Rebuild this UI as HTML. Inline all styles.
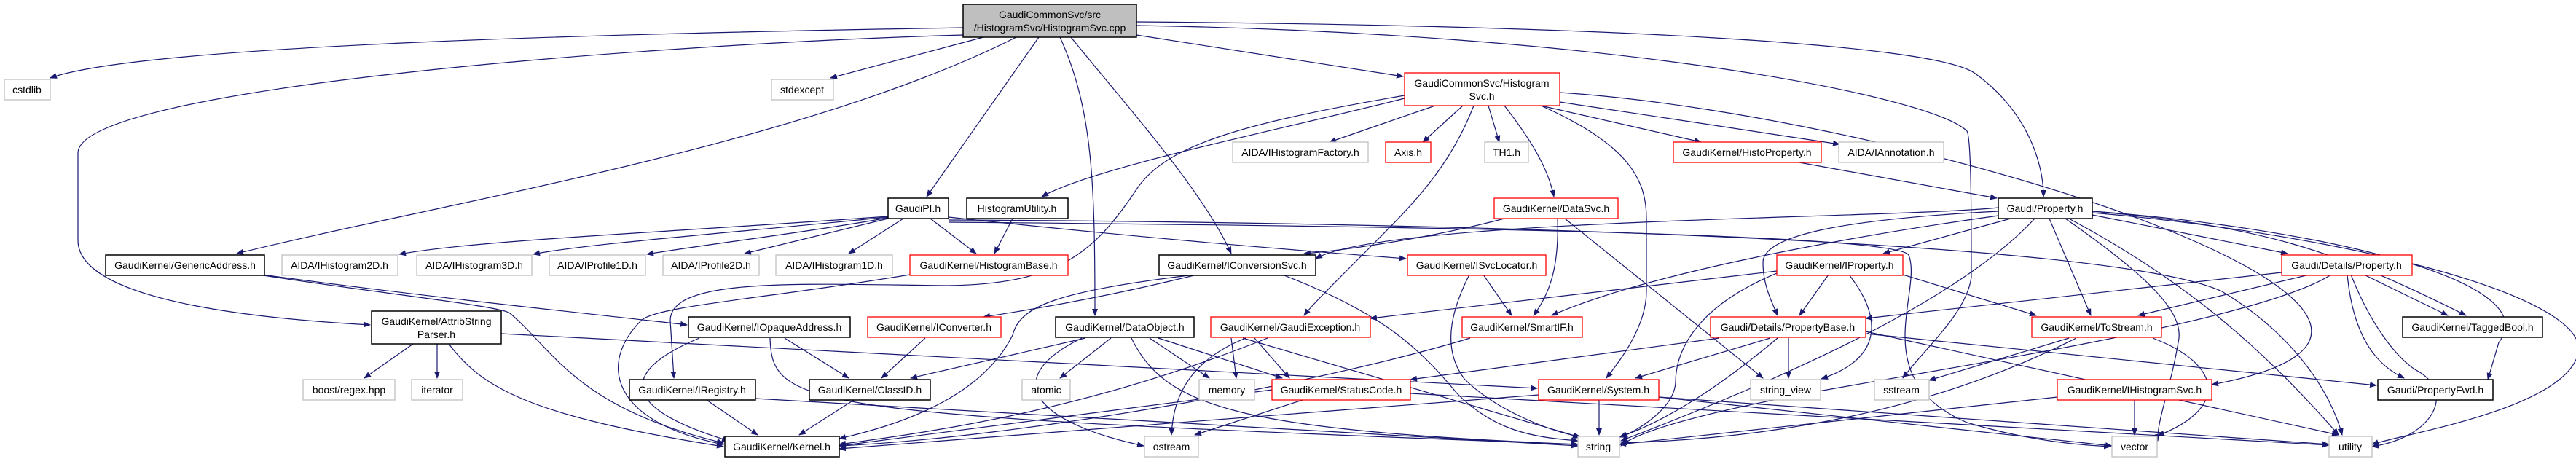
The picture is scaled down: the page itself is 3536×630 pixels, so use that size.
<!DOCTYPE html>
<html><head><meta charset="utf-8"><style>
html,body{margin:0;padding:0;background:#fff;width:3536px;height:630px;overflow:hidden}
svg{display:block}
text{font-family:"Liberation Sans",sans-serif;font-size:14px;fill:#000;text-anchor:middle}
.e{fill:none;stroke:#191970;stroke-width:1.2;marker-end:url(#a)}
.k{fill:#fff;stroke:#000;stroke-width:1.5}
.r{fill:#fff;stroke:#ff0000;stroke-width:1.3}
.g{fill:#fff;stroke:#bfbfbf;stroke-width:1.3}
</style></head><body>
<svg width="3536" height="630" viewBox="0 0 3536 630" xmlns="http://www.w3.org/2000/svg">
<defs><marker id="a" markerWidth="10" markerHeight="8" refX="9" refY="4" orient="auto" markerUnits="userSpaceOnUse"><path d="M0,0 L10,4 L0,8 z" fill="#191970"/></marker></defs>
<g>
<path class="e" d="M1322,38 C900,45 200,60 69,107"/>
<path class="e" d="M1322,48 C900,60 107,120 107,210 L107,330 C107,420 400,440 508,446"/>
<path class="e" d="M1350,51 L1140,107"/>
<path class="e" d="M1395,51 C1100,200 600,280 325,348"/>
<path class="e" d="M1426,51 L1272,270"/>
<path class="e" d="M1455,51 C1500,150 1503,250 1503,433"/>
<path class="e" d="M1470,51 C1550,150 1650,260 1690,348"/>
<path class="e" d="M1560,48 L1926,105"/>
<path class="e" d="M1560,30 C2200,35 2650,60 2710,100 C2780,150 2805,220 2805,270"/>
<path class="e" d="M1560,35 C2200,45 2650,130 2700,180 C2706,190 2706,300 2706,380 C2700,430 2640,480 2612,519"/>
<path class="e" d="M360,377 C600,410 900,440 943,446"/>
<path class="e" d="M355,377 C500,400 690,420 700,430 C760,480 790,560 993,608"/>
<path class="e" d="M567,472 L500,519"/>
<path class="e" d="M600,472 L600,519"/>
<path class="e" d="M616,472 C660,530 720,570 993,613"/>
<path class="e" d="M688,458 L2110,533"/>
<path class="e" d="M1219,297 C900,320 650,330 548,349"/>
<path class="e" d="M1219,298 C1000,320 800,335 732,349"/>
<path class="e" d="M1219,299 C1100,320 950,338 888,349"/>
<path class="e" d="M1219,300 L1022,348"/>
<path class="e" d="M1240,300 L1165,348"/>
<path class="e" d="M1277,300 L1340,348"/>
<path class="e" d="M1302,298 C1600,330 1800,345 1930,355"/>
<path class="e" d="M1302,302 C2000,305 2900,330 3050,400 C3150,460 3200,540 3215,597"/>
<path class="e" d="M1302,305 C1900,310 2600,320 2620,350 C2640,400 2560,520 2700,580 C2800,610 2880,612 2897,613"/>
<path class="e" d="M1390,300 L1365,348"/>
<path class="e" d="M1249,377 C1050,410 900,420 880,440 C820,500 840,580 993,610"/>
<path class="e" d="M1970,145 L1825,195"/>
<path class="e" d="M2008,145 L1953,195"/>
<path class="e" d="M2043,145 L2058,195"/>
<path class="e" d="M2115,145 L2335,195"/>
<path class="e" d="M2141,140 L2525,198"/>
<path class="e" d="M2065,145 C2100,190 2125,230 2133,270"/>
<path class="e" d="M2115,145 C2240,200 2260,250 2260,300 L2260,400 C2260,450 2220,500 2205,519"/>
<path class="e" d="M2023,145 C1990,230 1940,280 1880,340 C1820,400 1800,420 1790,433"/>
<path class="e" d="M1928,135 C1750,180 1500,230 1430,270"/>
<path class="e" d="M1928,131 C1700,170 1600,200 1560,260 C1500,350 1450,390 1300,392 C1100,390 920,380 920,440 L925,519"/>
<path class="e" d="M2141,127 C2640,160 3510,440 3036,528"/>
<path class="e" d="M2470,223 L2741,272"/>
<path class="e" d="M2065,300 C1950,330 1830,345 1790,348"/>
<path class="e" d="M2138,300 C2140,360 2130,400 2105,433"/>
<path class="e" d="M2148,300 L2420,519"/>
<path class="e" d="M2760,300 L2585,348"/>
<path class="e" d="M2743,290 C2550,300 2420,320 2420,360 C2420,390 2430,410 2440,433"/>
<path class="e" d="M2743,296 C2500,330 2250,380 2130,433"/>
<path class="e" d="M2813,300 L2870,433"/>
<path class="e" d="M2872,295 L3140,348"/>
<path class="e" d="M2793,300 C2700,400 2500,500 2225,605"/>
<path class="e" d="M2835,300 C2950,380 3000,430 2990,470 C2980,530 2960,580 2962,605"/>
<path class="e" d="M2840,300 C2990,380 3100,470 3210,597"/>
<path class="e" d="M2872,290 C3100,310 3200,340 3385,433"/>
<path class="e" d="M2872,290 C3150,310 3500,380 3430,470 L3415,521"/>
<path class="e" d="M2872,292 C3200,320 3540,400 3540,480 C3530,560 3300,595 3256,610"/>
<path class="e" d="M2743,285 C2600,300 1900,300 1806,355"/>
<path class="e" d="M2510,377 L2470,433"/>
<path class="e" d="M2538,377 C2580,430 2590,490 2500,520"/>
<path class="e" d="M2439,375 C2330,420 2300,480 2300,525 C2298,560 2250,590 2225,600"/>
<path class="e" d="M2439,372 C2200,400 1950,430 1881,437"/>
<path class="e" d="M2612,377 L2795,433"/>
<path class="e" d="M3132,374 C2900,400 2700,420 2561,437"/>
<path class="e" d="M3170,377 L2935,433"/>
<path class="e" d="M3200,377 C3100,440 2700,500 2480,540 C2350,565 2250,590 2225,612"/>
<path class="e" d="M3245,377 L3360,433"/>
<path class="e" d="M3222,377 C3230,460 3260,500 3300,519"/>
<path class="e" d="M3227,377 C3260,460 3300,500 3320,510 C3370,540 3340,600 3256,613"/>
<path class="e" d="M2840,464 L2648,522"/>
<path class="e" d="M2850,464 C2700,540 2500,600 2225,608"/>
<path class="e" d="M2955,464 C3050,500 3060,560 2962,598"/>
<path class="e" d="M2930,549 L2930,597"/>
<path class="e" d="M2824,545 L2223,610"/>
<path class="e" d="M2430,464 L2245,519"/>
<path class="e" d="M2455,464 L2455,519"/>
<path class="e" d="M2440,464 C2350,540 2280,580 2223,600"/>
<path class="e" d="M2360,464 L1936,521"/>
<path class="e" d="M2561,458 L3262,529"/>
<path class="e" d="M2561,455 L3210,597"/>
<path class="e" d="M2036,377 L2075,433"/>
<path class="e" d="M2017,377 C1990,430 1980,480 2010,520 C2050,560 2120,590 2170,600"/>
<path class="e" d="M1643,377 C1550,400 1450,420 1350,435"/>
<path class="e" d="M1640,377 C1450,400 1400,420 1390,460 C1350,540 1250,580 1152,602"/>
<path class="e" d="M1760,377 C1900,430 1950,480 2000,540 C2050,590 2100,600 2166,605"/>
<path class="e" d="M1270,464 L1210,519"/>
<path class="e" d="M1077,464 L1165,519"/>
<path class="e" d="M960,464 C850,510 850,560 1000,605"/>
<path class="e" d="M1057,464 C1060,560 1100,570 2166,610"/>
<path class="e" d="M1490,464 L1250,519"/>
<path class="e" d="M1525,464 L1455,519"/>
<path class="e" d="M1578,464 L1660,519"/>
<path class="e" d="M1485,464 C1370,520 1420,580 1570,612"/>
<path class="e" d="M1590,464 L1760,519"/>
<path class="e" d="M1553,464 C1600,560 1700,590 2166,610"/>
<path class="e" d="M1690,464 L1697,519"/>
<path class="e" d="M1722,464 L1770,519"/>
<path class="e" d="M1706,464 L2168,600"/>
<path class="e" d="M1710,464 C1620,500 1610,560 1608,597"/>
<path class="e" d="M1740,464 C1500,560 1300,590 1152,610"/>
<path class="e" d="M2018,464 C1800,530 1400,600 1152,612"/>
<path class="e" d="M1746,535 L1152,612"/>
<path class="e" d="M1788,549 L1640,597"/>
<path class="e" d="M1936,540 L3197,611"/>
<path class="e" d="M2195,549 L2195,597"/>
<path class="e" d="M2112,542 L1152,616"/>
<path class="e" d="M2277,545 L2899,612"/>
<path class="e" d="M2277,545 L3197,610"/>
<path class="e" d="M970,549 L1040,597"/>
<path class="e" d="M1037,547 L2166,612"/>
<path class="e" d="M1172,549 L1097,597"/>
</g>
<g>
<rect x="1322" y="6" width="238" height="45" fill="#bfbfbf" stroke="#000" stroke-width="1.5"/>
<text x="1441" y="25">GaudiCommonSvc/src</text><text x="1441" y="43">/HistogramSvc/HistogramSvc.cpp</text>
<rect class="g" x="6" y="109" width="63" height="28"/><text x="37" y="128">cstdlib</text>
<rect class="g" x="1059" y="109" width="85" height="28"/><text x="1101" y="128">stdexcept</text>
<rect class="r" x="1928" y="100" width="213" height="45"/><text x="2034" y="119">GaudiCommonSvc/Histogram</text><text x="2034" y="137">Svc.h</text>
<rect class="g" x="1692" y="195" width="186" height="28"/><text x="1785" y="214">AIDA/IHistogramFactory.h</text>
<rect class="r" x="1902" y="195" width="62" height="28"/><text x="1933" y="214">Axis.h</text>
<rect class="g" x="2038" y="195" width="60" height="28"/><text x="2068" y="214">TH1.h</text>
<rect class="r" x="2297" y="195" width="203" height="28"/><text x="2398" y="214">GaudiKernel/HistoProperty.h</text>
<rect class="g" x="2524" y="195" width="144" height="28"/><text x="2596" y="214">AIDA/IAnnotation.h</text>
<rect class="k" x="1219" y="272" width="83" height="28"/><text x="1260" y="291">GaudiPI.h</text>
<rect class="k" x="1327" y="272" width="139" height="28"/><text x="1396" y="291">HistogramUtility.h</text>
<rect class="r" x="2051" y="272" width="170" height="28"/><text x="2136" y="291">GaudiKernel/DataSvc.h</text>
<rect class="k" x="2743" y="272" width="129" height="28"/><text x="2807" y="291">Gaudi/Property.h</text>
<rect class="k" x="145" y="350" width="218" height="28"/><text x="254" y="369">GaudiKernel/GenericAddress.h</text>
<rect class="g" x="387" y="350" width="159" height="28"/><text x="466" y="369">AIDA/IHistogram2D.h</text>
<rect class="g" x="572" y="350" width="158" height="28"/><text x="651" y="369">AIDA/IHistogram3D.h</text>
<rect class="g" x="754" y="350" width="132" height="28"/><text x="820" y="369">AIDA/IProfile1D.h</text>
<rect class="g" x="910" y="350" width="132" height="28"/><text x="976" y="369">AIDA/IProfile2D.h</text>
<rect class="g" x="1065" y="350" width="160" height="28"/><text x="1145" y="369">AIDA/IHistogram1D.h</text>
<rect class="r" x="1249" y="350" width="217" height="28"/><text x="1357" y="369">GaudiKernel/HistogramBase.h</text>
<rect class="k" x="1591" y="350" width="215" height="28"/><text x="1698" y="369">GaudiKernel/IConversionSvc.h</text>
<rect class="r" x="1932" y="350" width="190" height="28"/><text x="2027" y="369">GaudiKernel/ISvcLocator.h</text>
<rect class="r" x="2439" y="350" width="173" height="28"/><text x="2525" y="369">GaudiKernel/IProperty.h</text>
<rect class="r" x="3132" y="350" width="179" height="28"/><text x="3221" y="369">Gaudi/Details/Property.h</text>
<rect class="k" x="510" y="427" width="178" height="45"/><text x="599" y="446">GaudiKernel/AttribString</text><text x="599" y="464">Parser.h</text>
<rect class="k" x="945" y="435" width="222" height="28"/><text x="1056" y="454">GaudiKernel/IOpaqueAddress.h</text>
<rect class="r" x="1191" y="435" width="183" height="28"/><text x="1282" y="454">GaudiKernel/IConverter.h</text>
<rect class="k" x="1449" y="435" width="190" height="28"/><text x="1544" y="454">GaudiKernel/DataObject.h</text>
<rect class="r" x="1662" y="435" width="219" height="28"/><text x="1771" y="454">GaudiKernel/GaudiException.h</text>
<rect class="r" x="2007" y="435" width="165" height="28"/><text x="2089" y="454">GaudiKernel/SmartIF.h</text>
<rect class="r" x="2348" y="435" width="213" height="28"/><text x="2454" y="454">Gaudi/Details/PropertyBase.h</text>
<rect class="r" x="2789" y="435" width="178" height="28"/><text x="2878" y="454">GaudiKernel/ToStream.h</text>
<rect class="k" x="3298" y="435" width="192" height="28"/><text x="3394" y="454">GaudiKernel/TaggedBool.h</text>
<rect class="g" x="416" y="521" width="126" height="28"/><text x="479" y="540">boost/regex.hpp</text>
<rect class="g" x="565" y="521" width="70" height="28"/><text x="600" y="540">iterator</text>
<rect class="k" x="864" y="521" width="173" height="28"/><text x="950" y="540">GaudiKernel/IRegistry.h</text>
<rect class="k" x="1111" y="521" width="166" height="28"/><text x="1194" y="540">GaudiKernel/ClassID.h</text>
<rect class="g" x="1403" y="521" width="66" height="28"/><text x="1436" y="540">atomic</text>
<rect class="g" x="1646" y="521" width="76" height="28"/><text x="1684" y="540">memory</text>
<rect class="r" x="1746" y="521" width="190" height="28"/><text x="1841" y="540">GaudiKernel/StatusCode.h</text>
<rect class="r" x="2112" y="521" width="165" height="28"/><text x="2194" y="540">GaudiKernel/System.h</text>
<rect class="g" x="2403" y="521" width="96" height="28"/><text x="2451" y="540">string_view</text>
<rect class="g" x="2573" y="521" width="75" height="28"/><text x="2610" y="540">sstream</text>
<rect class="r" x="2824" y="521" width="212" height="28"/><text x="2930" y="540">GaudiKernel/IHistogramSvc.h</text>
<rect class="k" x="3264" y="521" width="158" height="28"/><text x="3343" y="540">Gaudi/PropertyFwd.h</text>
<rect class="k" x="995" y="599" width="157" height="28"/><text x="1073" y="618">GaudiKernel/Kernel.h</text>
<rect class="g" x="1571" y="599" width="74" height="28"/><text x="1608" y="618">ostream</text>
<rect class="g" x="2166" y="599" width="57" height="28"/><text x="2194" y="618">string</text>
<rect class="g" x="2899" y="599" width="62" height="28"/><text x="2930" y="618">vector</text>
<rect class="g" x="3197" y="599" width="59" height="28"/><text x="3226" y="618">utility</text>
</g>
</svg>
</body></html>
